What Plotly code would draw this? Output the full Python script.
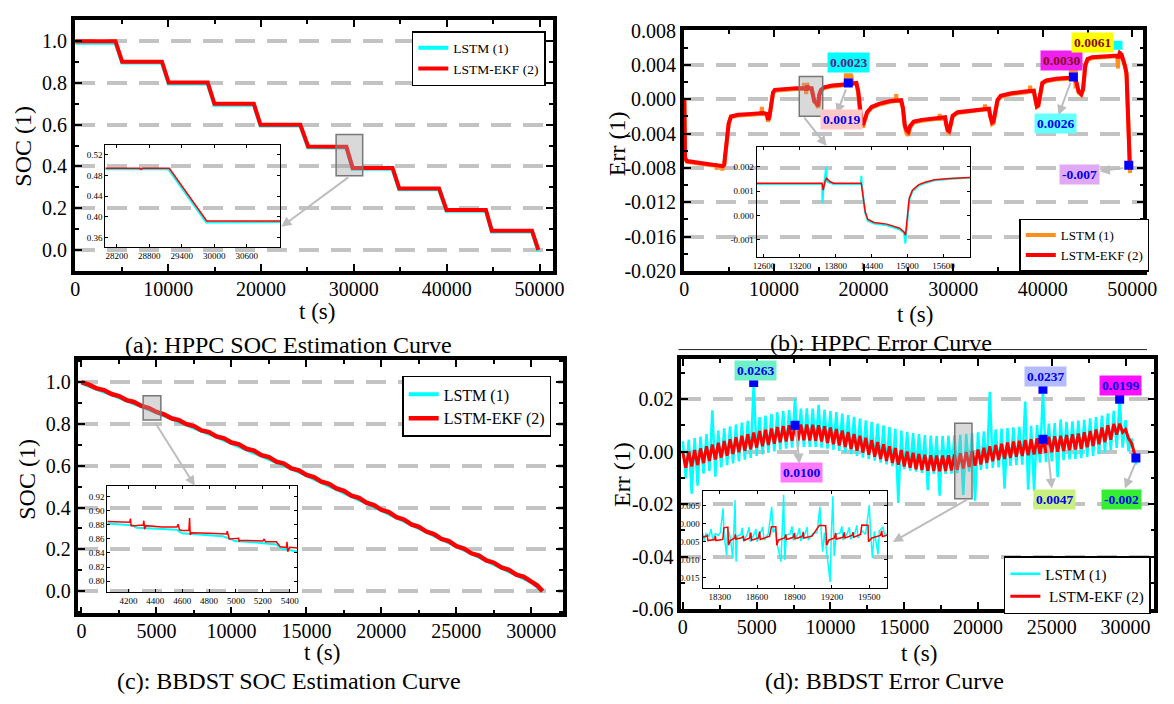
import plotly.graph_objects as go

FONT = "Liberation Serif"
W, H = 1174, 704
CYAN = "#00FFFF"
RED = "#FF0000"
ORANGE = "#FF9020"
BLUE = "#0000FF"
GRID = "#C3C3C3"

# ---------------- (a) HPPC SOC estimation ----------------
A_T = [0, 4326, 5048, 9334, 10055, 14261, 14983, 19229, 19950, 24236, 25078,
       29200, 29870, 34171, 34892, 39179, 39980, 44226, 44867, 49194, 49875]
A_EKF = [1.0, 1.0, 0.902, 0.902, 0.802, 0.802, 0.700, 0.700, 0.600, 0.600, 0.496,
         0.494, 0.393, 0.393, 0.295, 0.295, 0.192, 0.192, 0.092, 0.092, 0.0]
A_LSTM = [0.993, 0.993, 0.898, 0.898, 0.798, 0.798, 0.696, 0.696, 0.596, 0.596, 0.492,
          0.491, 0.389, 0.389, 0.291, 0.291, 0.188, 0.189, 0.088, 0.089, -0.006]
A_IN_EKF = [(27990, 0.494), (28620, 0.494), (28650, 0.492), (28680, 0.494),
            (29170, 0.494), (29860, 0.392), (31220, 0.392)]
A_IN_LSTM = [(27990, 0.492), (29150, 0.492), (29850, 0.389), (31220, 0.390)]
A_XT = [0, 10000, 20000, 30000, 40000, 50000]
A_YT = [0.0, 0.2, 0.4, 0.6, 0.8, 1.0]
A_YT_TXT = ["0.0", "0.2", "0.4", "0.6", "0.8", "1.0"]
A_IN_XT = [28200, 28800, 29400, 30000, 30600]
A_IN_YT = [0.36, 0.40, 0.44, 0.48, 0.52]
A_IN_YT_TXT = ["0.36", "0.40", "0.44", "0.48", "0.52"]

# ---------------- (b) HPPC error ----------------
B_EKF = [(0, 0.0), (80, -0.0068), (300, -0.0072), (1500, -0.0074), (3000, -0.0076),
         (3900, -0.0077), (4300, -0.0078), (4450, -0.0076), (4700, -0.0050), (4950, -0.0028),
         (5200, -0.0020), (6000, -0.0018), (7500, -0.0017), (8800, -0.0016), (9200, -0.0017),
         (9350, -0.0024), (9500, -0.0020), (9700, -0.0005), (9900, 0.0008), (10100, 0.0011),
         (11000, 0.0012), (12500, 0.0013), (13550, 0.0013), (13600, 0.0010), (13700, 0.0016),
         (13850, 0.0013), (14200, 0.0013), (14350, 0.0002), (14500, -0.0002), (14700, -0.0004),
         (14950, -0.0008), (15050, 0.0005), (15250, 0.0011), (15600, 0.0014), (16500, 0.0016),
         (17500, 0.0017), (18700, 0.0019), (19200, 0.0019), (19400, 0.0010), (19600, -0.0015),
         (19800, -0.0027), (19950, -0.0030), (20100, -0.0024), (20400, -0.0015), (20900, -0.0009),
         (21800, -0.0005), (23000, -0.0002), (24200, -0.0001), (24400, -0.0010), (24600, -0.0030),
         (24800, -0.0036), (25000, -0.0038), (25200, -0.0031), (25600, -0.0026), (26500, -0.0024),
         (28000, -0.0022), (29100, -0.0021), (29250, -0.0030), (29400, -0.0036), (29550, -0.0037),
         (29700, -0.0030), (29950, -0.0019), (30500, -0.0015), (32000, -0.0013), (34000, -0.0011),
         (34150, -0.0020), (34350, -0.0027), (34500, -0.0026), (34700, -0.0012), (34950, -0.0001),
         (35300, 0.0004), (36500, 0.0007), (38000, 0.0009), (39000, 0.0010), (39150, 0.0002),
         (39350, -0.0008), (39500, -0.0007), (39700, 0.0008), (39950, 0.0019), (40400, 0.0022),
         (41500, 0.0024), (43000, 0.0025), (43600, 0.0026), (43800, 0.0018), (44000, 0.0009),
         (44300, 0.0006), (44500, 0.0012), (44750, 0.0040), (45000, 0.0047), (45500, 0.0049),
         (46500, 0.0050), (47500, 0.0051), (48300, 0.0051), (48450, 0.0048), (48600, 0.0054),
         (48800, 0.0052), (49000, 0.0046), (49200, 0.0038), (49350, 0.0030), (49450, 0.0005),
         (49550, -0.0040), (49650, -0.0070), (49720, -0.0078)]
B_LSTM = [(0, 0.0), (80, -0.0070), (300, -0.0073), (1500, -0.0075), (3000, -0.0077),
          (3550, -0.0077), (3600, -0.0082), (3650, -0.0077), (3900, -0.0078), (4200, -0.0079),
          (4250, -0.0083), (4300, -0.0079), (4450, -0.0077), (4700, -0.0051), (4950, -0.0029),
          (5200, -0.0021), (6000, -0.0019), (7500, -0.0018), (8600, -0.0017), (8650, -0.0009),
          (8700, -0.0017), (9200, -0.0018), (9350, -0.0026), (9500, -0.0021), (9700, -0.0006),
          (9900, 0.0007), (10100, 0.0010), (11000, 0.0011), (12500, 0.0012), (13300, 0.0012),
          (13350, 0.0019), (13400, 0.0012), (13550, 0.0012), (13600, 0.0006), (13700, 0.0019),
          (13850, 0.0012), (14200, 0.0012), (14350, 0.0001), (14500, -0.0003), (14700, -0.0005),
          (14950, -0.0010), (15050, 0.0004), (15250, 0.0010), (15600, 0.0013), (16500, 0.0015),
          (17500, 0.0016), (18550, 0.0018), (18650, 0.0028), (18750, 0.0018), (19200, 0.0018),
          (19400, 0.0008), (19600, -0.0017), (19800, -0.0030), (19950, -0.0033), (20100, -0.0026),
          (20400, -0.0016), (20900, -0.0010), (21800, -0.0006), (23000, -0.0003), (23600, -0.0002),
          (23650, 0.0006), (23700, -0.0002), (24200, -0.0002), (24400, -0.0012), (24600, -0.0032),
          (24800, -0.0040), (25000, -0.0042), (25200, -0.0033), (25600, -0.0027), (26500, -0.0025),
          (28000, -0.0023), (28450, -0.0023), (28500, -0.0017), (28550, -0.0023), (29100, -0.0022),
          (29250, -0.0031), (29400, -0.0038), (29550, -0.0039), (29700, -0.0031), (29950, -0.0020),
          (30500, -0.0016), (32000, -0.0014), (33500, -0.0012), (33550, -0.0006), (33600, -0.0012),
          (34000, -0.0012), (34150, -0.0021), (34350, -0.0029), (34500, -0.0028), (34700, -0.0013),
          (34950, -0.0002), (35300, 0.0003), (36500, 0.0006), (38000, 0.0008), (38550, 0.0009),
          (38600, 0.0016), (38650, 0.0009), (39000, 0.0009), (39150, 0.0001), (39350, -0.0009),
          (39500, -0.0008), (39700, 0.0007), (39950, 0.0018), (40400, 0.0021), (41500, 0.0023),
          (43000, 0.0024), (43350, 0.0025), (43400, 0.0034), (43450, 0.0025), (43600, 0.0025),
          (43650, 0.0016), (43800, 0.0017), (44000, 0.0008), (44300, 0.0005), (44500, 0.0011),
          (44750, 0.0039), (45000, 0.0046), (45500, 0.0048), (46500, 0.0049), (47500, 0.0050),
          (48300, 0.0050), (48400, 0.0036), (48450, 0.0047), (48600, 0.0055), (48800, 0.0051),
          (49000, 0.0045), (49200, 0.0037), (49350, 0.0029), (49450, 0.0004), (49550, -0.0042),
          (49650, -0.0074), (49750, -0.0086)]
B_IN_EKF = [(12477, 0.00133), (13570, 0.00133), (13590, 0.00104), (13620, 0.00140),
            (13645, 0.00153), (13700, 0.00140), (13760, 0.00133), (14225, 0.00133),
            (14290, 0.00017), (14333, -0.00016), (14440, -0.00029), (14653, -0.00036),
            (14867, -0.00053), (14940, -0.00068), (14965, -0.00082), (15000, 0.00011),
            (15027, 0.00070), (15080, 0.00104), (15187, 0.00127), (15293, 0.00137),
            (15453, 0.00147), (15700, 0.00152), (16045, 0.00157)]
B_IN_LSTM = [(12477, 0.00130), (13570, 0.00130), (13578, 0.00051), (13590, 0.00100),
             (13640, 0.00200), (13650, 0.00140), (13760, 0.00130), (14220, 0.00130),
             (14227, 0.00164), (14235, 0.00130), (14290, 0.00010), (14333, -0.00022),
             (14440, -0.00034), (14653, -0.00041), (14867, -0.00058), (14940, -0.00072),
             (14963, -0.00116), (14975, -0.00080), (15000, 0.00005), (15027, 0.00064),
             (15080, 0.00099), (15187, 0.00123), (15293, 0.00134), (15453, 0.00145),
             (15700, 0.00150), (16045, 0.00156)]
B_BLUE = [(18300, 0.0019), (43420, 0.0026), (49600, -0.0077)]
B_ORANGE = [(18300, 0.0025), (43420, 0.0032)]
B_CYAN = [(48400, 0.0063)]
B_XT = [0, 10000, 20000, 30000, 40000, 50000]
B_YT = [-0.020, -0.016, -0.012, -0.008, -0.004, 0.0, 0.004, 0.008]
B_YT_TXT = ["-0.020", "-0.016", "-0.012", "-0.008", "-0.004", "0.000", "0.004", "0.008"]
B_IN_XT = [12600, 13200, 13800, 14400, 15000, 15600]
B_IN_YT = [-0.001, 0.0, 0.001, 0.002]
B_IN_YT_TXT = ["-0.001", "0.000", "0.001", "0.002"]

# ---------------- (c) BBDST SOC estimation ----------------
C_T = list(range(0, 30001, 500)) + [30400, 30750]
C_EKF = [1.000, 0.988, 0.970, 0.962, 0.943, 0.933, 0.914, 0.905, 0.886, 0.876,
         0.857, 0.846, 0.827, 0.818, 0.799, 0.790, 0.769, 0.761, 0.740, 0.731,
         0.711, 0.702, 0.681, 0.672, 0.650, 0.641, 0.619, 0.610, 0.587, 0.578,
         0.556, 0.546, 0.524, 0.513, 0.491, 0.480, 0.457, 0.446, 0.423, 0.412,
         0.389, 0.378, 0.354, 0.343, 0.319, 0.308, 0.285, 0.273, 0.250, 0.239,
         0.215, 0.204, 0.181, 0.170, 0.147, 0.136, 0.113, 0.102, 0.079, 0.068,
         0.045, 0.027, 0.0]
C_LSTM = [0.996, 0.981, 0.969, 0.955, 0.942, 0.926, 0.913, 0.898, 0.885, 0.869,
          0.856, 0.839, 0.826, 0.811, 0.798, 0.783, 0.768, 0.754, 0.739, 0.724,
          0.710, 0.695, 0.680, 0.665, 0.649, 0.634, 0.618, 0.603, 0.586, 0.571,
          0.555, 0.539, 0.523, 0.506, 0.490, 0.473, 0.456, 0.439, 0.422, 0.405,
          0.388, 0.371, 0.353, 0.336, 0.318, 0.301, 0.284, 0.266, 0.249, 0.232,
          0.214, 0.197, 0.180, 0.163, 0.146, 0.129, 0.112, 0.095, 0.078, 0.061,
          0.044, 0.021, -0.002]
C_IN_EKF = [(4043, 0.885), (4150, 0.884), (4210, 0.884), (4215, 0.889), (4220, 0.879),
            (4250, 0.879), (4310, 0.880), (4315, 0.886), (4320, 0.874), (4330, 0.879),
            (4450, 0.877), (4560, 0.877), (4570, 0.881), (4580, 0.873), (4600, 0.872),
            (4650, 0.872), (4655, 0.890), (4660, 0.866), (4670, 0.869), (4800, 0.868),
            (4930, 0.867), (4935, 0.871), (4950, 0.860), (5020, 0.861), (5025, 0.856),
            (5030, 0.858), (5200, 0.857), (5210, 0.860), (5220, 0.856), (5300, 0.856),
            (5330, 0.849), (5375, 0.848), (5380, 0.856), (5385, 0.842), (5400, 0.848),
            (5457, 0.847)]
C_IN_LSTM = [(4043, 0.882), (4150, 0.881), (4230, 0.8795), (4260, 0.876), (4400, 0.875),
             (4560, 0.873), (4600, 0.868), (4750, 0.866), (4900, 0.864), (4960, 0.860),
             (4990, 0.857), (5150, 0.855), (5300, 0.852), (5340, 0.846), (5457, 0.842)]
C_XT = [0, 5000, 10000, 15000, 20000, 25000, 30000]
C_IN_XT = [4200, 4400, 4600, 4800, 5000, 5200, 5400]
C_IN_YT = [0.80, 0.82, 0.84, 0.86, 0.88, 0.90, 0.92]
C_IN_YT_TXT = ["0.80", "0.82", "0.84", "0.86", "0.88", "0.90", "0.92"]

# ---------------- (d) BBDST error (values x 1e-3) ----------------
D_T = list(range(0, 30601, 200)) + [30700]
D_EKF_MILLI = [
    -0.5, -6.2, 0.0, -5.7, 0.6, -5.1, 1.2, -4.4, 2.0, -3.6,
    2.7, -3.0, 3.3, -2.3, 4.0, -1.6, 4.7, -0.9, 5.4, -0.3,
    6.0, 0.3, 6.6, 0.9, 7.2, 1.5, 7.8, 2.0, 8.3, 2.5,
    8.8, 3.0, 9.3, 3.5, 9.7, 3.8, 10.0, 4.1, 10.0, 4.2,
    10.3, 4.3, 10.3, 4.2, 10.2, 4.1, 10.0, 3.8, 9.6, 3.3,
    9.1, 2.8, 8.6, 2.3, 8.0, 1.7, 7.4, 1.0, 6.7, 0.3,
    6.0, -0.4, 5.2, -1.2, 4.4, -2.0, 3.6, -2.8, 2.8, -3.6,
    2.0, -4.3, 1.3, -5.0, 0.6, -5.7, 0.0, -6.2, -0.5, -6.7,
    -0.9, -7.0, -1.2, -7.3, -1.4, -7.4, -1.5, -7.5, -1.5, -7.4,
    -1.4, -7.2, -1.1, -6.9, -0.7, -6.4, -0.2, -5.9, 0.3, -5.4,
    0.8, -4.9, 1.4, -4.3, 2.0, -3.7, 2.5, -3.2, 3.0, -2.8,
    3.4, -2.4, 3.8, -2.0, 4.1, -1.7, 4.4, -1.4, 4.7, -1.1,
    5.0, -0.8, 4.7, -0.5, 5.6, -0.3, 5.8, -0.1, 6.0, 0.2,
    6.3, 0.5, 6.6, 0.8, 6.9, 1.1, 7.3, 1.6, 7.8, 2.1,
    8.4, 2.8, 9.1, 3.6, 10.0, 4.5, 10.5, 6.4, 10.6, 7.3,
    8.4, 5.0, 3.2, -0.5, -2.5]
D_LSTM_MILLI = [
    4.0, -10.2, 4.5, -16.0, 5.1, -13.0, 5.7, -8.4, 6.6, -7.5,
    15.7, -9.6, 8.0, -6.0, 8.8, -5.2, 9.6, -4.5, 10.3, -3.8,
    11.0, -3.1, 11.7, -2.4, 26.3, -1.7, 13.1, -1.1, 13.7, -0.5,
    14.3, 0.1, 14.9, 0.7, 15.4, 1.1, 15.8, 1.5, 20.2, 1.7,
    16.3, 1.8, 16.4, 1.8, 16.3, 1.8, 17.8, 1.5, 15.9, 1.1,
    15.4, 0.7, 15.0, 0.2, 14.4, -0.4, 13.9, -1.0, 13.2, -1.7,
    12.5, -2.3, 11.9, -2.9, 11.3, -3.5, 10.6, -4.2, 10.0, -4.9,
    9.3, -5.6, 8.7, -19.6, 8.0, -6.7, 7.5, -7.3, 7.0, -7.7,
    6.6, -8.1, 6.3, -14.7, 6.1, -8.5, 6.0, -16.8, 6.0, -8.5,
    6.1, -8.4, 6.2, -8.2, 6.4, -16.5, 6.7, -7.7, 7.0, -18.7,
    7.3, -7.0, 7.7, -6.6, 22.7, -6.2, 8.4, -6.0, 8.7, -14.1,
    8.9, -5.5, 9.2, -5.2, 9.4, -5.0, 19.0, -14.5, 9.8, -15.0,
    10.1, -4.2, 23.7, -4.0, 10.6, -3.8, 10.8, -9.8, 12.3, -3.3,
    11.3, -3.0, 11.5, -2.8, 11.8, -2.5, 12.1, -2.1, 12.6, -1.7,
    13.1, -1.0, 13.7, -0.3, 14.5, 0.5, 15.5, 1.4, 19.9, 1.5,
    12.0, 0.0, 5.0, -3.0, -5.0]
D_IN_EKF_MILLI = [
    (18162, -3.8), (18200, -3.4), (18205, -4.7), (18260, -4.4), (18265, -3.4), (18270, -4.7),
    (18325, -4.4), (18333, -1.2), (18365, -1.0), (18371, -6.0), (18385, -4.7), (18420, -4.0),
    (18425, -3.0), (18430, -4.3), (18470, -4.0), (18490, -3.6), (18495, -4.7), (18540, -4.0),
    (18550, -2.5), (18555, -4.6), (18610, -4.0), (18620, -2.2), (18625, -4.4), (18700, -3.5),
    (18715, -0.9), (18750, -0.9), (18758, -6.0), (18770, -4.6), (18820, -4.0), (18830, -3.0),
    (18835, -4.4), (18890, -3.8), (18900, -2.6), (18905, -4.2), (18960, -3.6), (18970, -2.3),
    (18975, -4.0), (19040, -3.5), (19100, -0.5), (19150, -0.6), (19159, -6.0), (19175, -4.6),
    (19220, -4.0), (19230, -2.6), (19235, -4.3), (19290, -3.8), (19300, -2.4), (19305, -4.0),
    (19360, -3.3), (19370, -2.4), (19375, -3.8), (19430, -3.0), (19440, -0.4), (19490, -0.5),
    (19494, -5.0), (19520, -4.0), (19590, -3.3), (19600, -2.0), (19605, -3.6), (19646, -3.2)]
D_IN_LSTM_MILLI = [
    (18162, -2.6), (18175, -4.8), (18190, -2.8), (18215, -3.5), (18230, -1.5), (18245, -4.6),
    (18265, -2.8), (18290, -3.3), (18305, -2.5), (18327, 4.2), (18335, -3.0), (18355, -8.7),
    (18365, -1.5), (18385, -3.8), (18404, -9.6), (18412, -3.0), (18423, 6.4), (18431, -10.5),
    (18440, -3.5), (18470, -3.0), (18480, -1.2), (18490, -4.8), (18520, -3.0), (18535, -1.0),
    (18545, -5.0), (18575, -3.0), (18590, -1.5), (18600, -5.0), (18630, -2.5), (18645, -1.0),
    (18655, -4.6), (18690, -2.8), (18717, 4.6), (18728, -2.5), (18745, -1.5), (18760, -5.5),
    (18791, -10.5), (18800, -3.0), (18813, 7.9), (18822, -10.0), (18835, -3.2), (18865, -2.8),
    (18880, -0.8), (18890, -4.6), (18925, -3.0), (18940, -1.2), (18950, -4.8), (18985, -2.8),
    (19000, -1.0), (19010, -4.6), (19045, -2.8), (19080, -2.5), (19104, 4.6), (19115, -3.0),
    (19126, -7.8), (19140, -2.5), (19186, -16.1), (19195, -3.0), (19208, 7.5), (19218, -9.0),
    (19235, -3.0), (19265, -2.6), (19280, -0.8), (19290, -4.6), (19325, -2.6), (19340, -1.0),
    (19350, -4.4), (19385, -2.5), (19400, -0.5), (19410, -4.0), (19440, -2.0), (19470, -3.0),
    (19500, 5.1), (19510, -2.5), (19525, -9.5), (19540, -2.2), (19570, -8.5), (19580, -2.0),
    (19610, -1.0), (19625, -3.5), (19646, -2.8)]
D_BLUE = [(4800, 0.0263), (7600, 0.0100), (24400, 0.0237), (24400, 0.0047),
          (29600, 0.0199), (30700, -0.0025)]
D_XT = [0, 5000, 10000, 15000, 20000, 25000, 30000]
D_YT = [-0.06, -0.04, -0.02, 0.0, 0.02]
D_YT_TXT = ["-0.06", "-0.04", "-0.02", "0.00", "0.02"]
D_IN_XT = [18300, 18600, 18900, 19200, 19500]
D_IN_YT = [-0.015, -0.010, -0.005, 0.0, 0.005]
D_IN_YT_TXT = ["-0.015", "-0.010", "-0.005", "0.000", "0.005"]

# value labels: (text, x, y, text colour, background)
B_LABELS = [("0.0023", 18293, 0.00428, "#55207F", "#00FFFF"),
            ("0.0019", 17550, -0.00235, "#0000EE", "#FFC8C8"),
            ("0.0030", 42129, 0.00454, "#8B0A1A", "#F020F0"),
            ("0.0026", 41463, -0.00287, "#0000EE", "#66FFFF"),
            ("0.0061", 45521, 0.00662, "#8B0A0A", "#FFFF00"),
            ("-0.007", 44157, -0.00875, "#0000EE", "#E0A8F5")]
D_LABELS = [("0.0263", 4920, 0.0309, "#0000EE", "#70F0C8"),
            ("0.0100", 8040, -0.0081, "#0000EE", "#FF7AFF"),
            ("0.0237", 24553, 0.0285, "#0000EE", "#B4BCFF"),
            ("0.0199", 29653, 0.0251, "#0000EE", "#FF10FF"),
            ("0.0047", 25180, -0.0184, "#0000EE", "#C8F080"),
            ("-0.002", 29733, -0.0184, "#0000EE", "#33EE33")]


def xd(a, b):
    return [a / W, b / W]


def yd(top, bottom):
    return [1 - bottom / H, 1 - top / H]


def unz(pairs, scale=1.0):
    return [p[0] for p in pairs], [p[1] * scale for p in pairs]


def line(x, y, color, width, ax, name=None, legend=None):
    return go.Scatter(x=x, y=y, mode="lines", line=dict(color=color, width=width),
                      xaxis="x" + ax, yaxis="y" + ax, name=name,
                      legend=legend, showlegend=legend is not None, hoverinfo="skip")


def squares(pairs, color, ax, size=9):
    x, y = unz(pairs)
    return go.Scatter(x=x, y=y, mode="markers", marker=dict(symbol="square", size=size, color=color),
                      xaxis="x" + ax, yaxis="y" + ax, showlegend=False, hoverinfo="skip")


fig = go.Figure()
# (a)
fig.add_trace(line(A_T, A_LSTM, CYAN, 4, "", "LSTM (1)", "legend"))
fig.add_trace(line(A_T, A_EKF, RED, 4, "", "LSTM-EKF (2)", "legend"))
x, y = unz(A_IN_LSTM); fig.add_trace(line(x, y, CYAN, 2, "5"))
x, y = unz(A_IN_EKF); fig.add_trace(line(x, y, RED, 1.5, "5"))
# (b)
x, y = unz(B_LSTM); fig.add_trace(line(x, y, ORANGE, 4, "2", "LSTM (1)", "legend2"))
x, y = unz(B_EKF); fig.add_trace(line(x, y, RED, 4, "2", "LSTM-EKF (2)", "legend2"))
fig.add_trace(squares(B_ORANGE, ORANGE, "2"))
fig.add_trace(squares(B_CYAN, CYAN, "2"))
fig.add_trace(squares(B_BLUE, BLUE, "2"))
x, y = unz(B_IN_LSTM); fig.add_trace(line(x, y, CYAN, 2, "6"))
x, y = unz(B_IN_EKF); fig.add_trace(line(x, y, RED, 1.5, "6"))
# (c)
fig.add_trace(line(C_T, C_LSTM, CYAN, 4, "3", "LSTM (1)", "legend3"))
fig.add_trace(line(C_T, C_EKF, RED, 4.5, "3", "LSTM-EKF (2)", "legend3"))
x, y = unz(C_IN_LSTM); fig.add_trace(line(x, y, CYAN, 2, "7"))
x, y = unz(C_IN_EKF); fig.add_trace(line(x, y, RED, 1.5, "7"))
# (d)
fig.add_trace(line(D_T, [v * 1e-3 for v in D_LSTM_MILLI], CYAN, 2.5, "4", "LSTM (1)", "legend4"))
fig.add_trace(line(D_T, [v * 1e-3 for v in D_EKF_MILLI], RED, 3, "4", " LSTM-EKF (2)", "legend4"))
fig.add_trace(squares(D_BLUE, BLUE, "4"))
x, y = unz(D_IN_LSTM_MILLI, 1e-3); fig.add_trace(line(x, y, CYAN, 1.5, "8"))
x, y = unz(D_IN_EKF_MILLI, 1e-3); fig.add_trace(line(x, y, RED, 1.5, "8"))


def main_x(dom, rng, vals, anchor, minor_dt):
    return dict(domain=dom, range=rng, anchor=anchor, tickmode="array", tickvals=vals,
                ticktext=[str(v) for v in vals], showline=True, linecolor="black", linewidth=3.5,
                mirror="allticks", ticks="inside", ticklen=7, tickwidth=2, tickcolor="black",
                ticklabelstandoff=-3,
                tickfont=dict(family=FONT, size=20, color="black"), showgrid=False, zeroline=False,
                minor=dict(ticks="inside", ticklen=4, tickwidth=1.5, tickcolor="black",
                           tick0=0, dtick=minor_dt, showgrid=False))


def main_y(dom, rng, vals, txt, anchor, minor_dt):
    return dict(domain=dom, range=rng, anchor=anchor, tickmode="array", tickvals=vals,
                ticktext=txt, showline=True, linecolor="black", linewidth=3.5,
                mirror="allticks", ticks="inside", ticklen=7, tickwidth=2, tickcolor="black",
                tickfont=dict(family=FONT, size=20, color="black"), zeroline=False,
                showgrid=True, gridcolor=GRID, gridwidth=3.5, griddash="20px,12px",
                minor=dict(ticks="inside", ticklen=4, tickwidth=1.5, tickcolor="black",
                           tick0=0, dtick=minor_dt, showgrid=False))


def inset_ax(dom, rng, vals, txt, anchor):
    return dict(domain=dom, range=rng, anchor=anchor, tickmode="array", tickvals=vals,
                ticktext=txt, showline=True, linecolor="black", linewidth=1.2,
                mirror="allticks", ticks="inside", ticklen=3, tickwidth=1, tickcolor="black",
                tickfont=dict(family=FONT, size=9, color="black"), showgrid=False, zeroline=False)


layout = dict(
    width=W, height=H, margin=dict(l=0, r=0, t=0, b=0),
    paper_bgcolor="white", plot_bgcolor="rgba(0,0,0,0)",
    font=dict(family=FONT, color="black"),
    xaxis=main_x(xd(71, 556.7), [-50, 51420], A_XT, "y", 5000),
    yaxis=main_y(yd(9.7, 268.2), [-0.1, 1.1], A_YT, A_YT_TXT, "x", 0.1),
    xaxis2=main_x(xd(690, 1157), [-55, 51220], B_XT, "y2", 5000),
    yaxis2=main_y(yd(20, 268.3), [-0.0200, 0.00803], B_YT, B_YT_TXT, "x2", 0.002),
    xaxis3=main_x(xd(74.7, 567.2), [-197, 32113], C_XT, "y3", 2500),
    yaxis3=main_y(yd(360, 621.7), [-0.106, 1.107], A_YT, A_YT_TXT, "x3", 0.1),
    xaxis4=main_x(xd(687.5, 1168.3), [-100, 31953], D_XT, "y4", 2500),
    yaxis4=main_y(yd(359, 617.5), [-0.0600, 0.0353], D_YT, D_YT_TXT, "x4", 0.01),
    xaxis5=inset_ax(xd(102, 280), [27990, 31220], A_IN_XT, [str(v) for v in A_IN_XT], "y5"),
    yaxis5=inset_ax(yd(138.3, 244), [0.341, 0.539], A_IN_YT, A_IN_YT_TXT, "x5"),
    xaxis6=inset_ax(xd(764, 981), [12477, 16045], B_IN_XT, [str(v) for v in B_IN_XT], "y6"),
    yaxis6=inset_ax(yd(140, 254), [-0.00172, 0.00284], B_IN_YT, B_IN_YT_TXT, "x6"),
    xaxis7=inset_ax(xd(104, 297.2), [4043, 5457], C_IN_XT, [str(v) for v in C_IN_XT], "y7"),
    yaxis7=inset_ax(yd(490.7, 600), [0.784, 0.935], C_IN_YT, C_IN_YT_TXT, "x7"),
    xaxis8=inset_ax(xd(709, 897), [18162, 19646], D_IN_XT, [str(v) for v in D_IN_XT], "y8"),
    yaxis8=inset_ax(yd(495.7, 595.7), [-0.0178, 0.0089], D_IN_YT, D_IN_YT_TXT, "x8"),
)


def leg(xpx, ypx, size):
    return dict(x=xpx / W, y=1 - ypx / H, xanchor="left", yanchor="top", bgcolor="white",
                bordercolor="black", borderwidth=1.5, font=dict(family=FONT, size=size, color="black"),
                tracegroupgap=0, itemwidth=30)


layout["legend"] = leg(413.5, 20.7, 13.5)
layout["legend2"] = leg(1031, 214.3, 13)
layout["legend3"] = leg(403.7, 376.7, 16)
layout["legend4"] = leg(1015.3, 562.7, 15)

ann = []


def ptext(txt, xpx, ypx, size=24, angle=0):
    ann.append(dict(text=txt, x=xpx / W, y=1 - ypx / H, xref="paper", yref="paper",
                    xanchor="center", yanchor="middle", showarrow=False, textangle=angle,
                    font=dict(family=FONT, size=size, color="black")))


ptext("(a): HPPC SOC Estimation Curve", 288.5, 345)
ptext("(b): HPPC Error Curve", 890, 343)
ptext("(c): BBDST SOC Estimation Curve", 288.5, 692)
ptext("(d): BBDST Error Curve", 894, 692)
ptext("t (s)", 316.7, 310, size=23)
ptext("t (s)", 925.4, 313, size=23)
ptext("t (s)", 322.3, 662, size=23)
ptext("t (s)", 929.2, 663, size=23)
ptext("SOC (1)", 18.3, 140, angle=-90)
ptext("Err (1)", 621.5, 137, angle=-90)
ptext("SOC (1)", 22.2, 483, angle=-90)
ptext("Err (1)", 627, 478, angle=-90)


def arrow(ax_id, tail, head):
    ann.append(dict(text="", x=head[0], y=head[1], ax=tail[0], ay=tail[1],
                    xref="x" + ax_id, yref="y" + ax_id, axref="x" + ax_id, ayref="y" + ax_id,
                    showarrow=True, arrowhead=2, arrowsize=1, arrowwidth=2, arrowcolor="#BDBDBD"))


arrow("", (29555, 0.353), (22195, 0.111))
arrow("2", (13260, -0.00197), (15887, -0.00543))
arrow("3", (4849, 0.814), (7559, 0.504))
arrow("4", (19353, -0.018), (14227, -0.0344))
arrow("2", (18104, 0.00134), (17007, -0.00167))
arrow("2", (43160, 0.00210), (41763, -0.00185))
arrow("2", (49146, -0.00800), (46375, -0.00838))
arrow("4", (7667, 0.0087), (7900, -0.0046))
arrow("4", (24700, 0.0031), (25000, -0.0141))
arrow("4", (30667, -0.0043), (29953, -0.0141))

for ax_id, labels in (("2", B_LABELS), ("4", D_LABELS)):
    for txt, lx, ly, fc, bg in labels:
        ann.append(dict(text="<b>%s</b>" % txt, x=lx, y=ly, xref="x" + ax_id, yref="y" + ax_id,
                        showarrow=False, bgcolor=bg, borderpad=2,
                        font=dict(family=FONT, size=13.5, color=fc)))

layout["annotations"] = ann

shapes = []
for ax_id, (x0, x1, y0, y1) in (("", (28091, 30954, 0.356, 0.553)),
                                ("2", (12827, 15443, -0.00197, 0.00267)),
                                ("3", (4114, 5295, 0.819, 0.935)),
                                ("4", (18424, 19594, -0.018, 0.01077))):
    shapes.append(dict(type="rect", xref="x" + ax_id, yref="y" + ax_id, x0=x0, x1=x1, y0=y0, y1=y1,
                       fillcolor="rgba(160,160,160,0.4)", line=dict(color="#777777", width=1.5),
                       layer="above"))
shapes.append(dict(type="line", xref="paper", yref="paper", x0=684.5 / W, x1=1160.8 / W,
                   y0=1 - 349.5 / H, y1=1 - 349.5 / H, line=dict(color="#222222", width=1)))
layout["shapes"] = shapes

fig.update_layout(**layout)
fig.write_html("out.html", config={"displayModeBar": False},
               post_script="document.body.style.margin='0px';")
